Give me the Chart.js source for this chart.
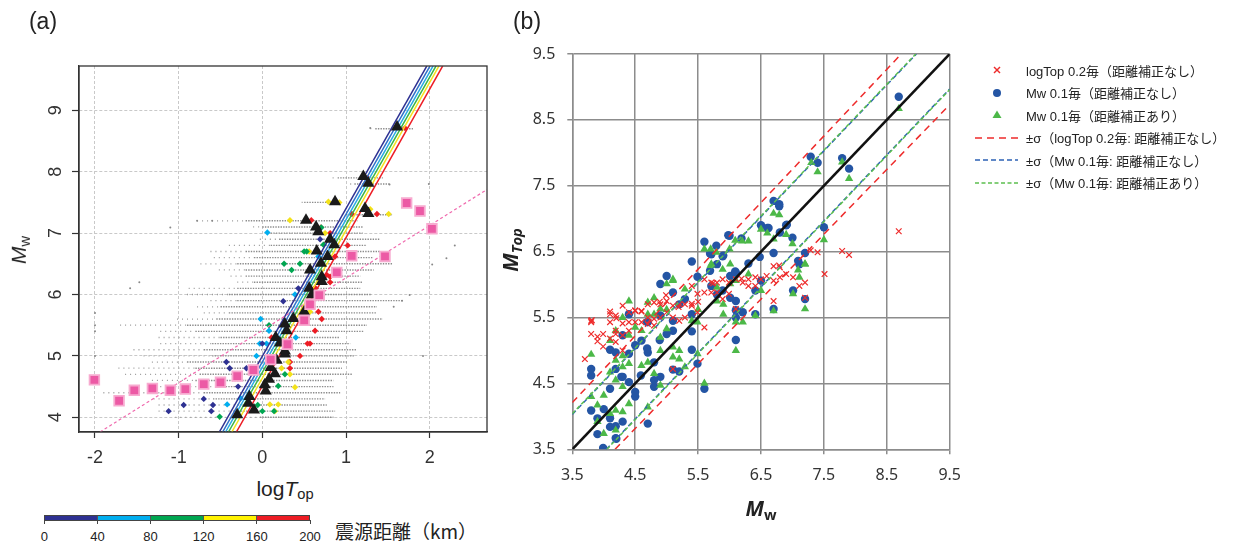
<!DOCTYPE html>
<html>
<head>
<meta charset="utf-8">
<script src="https://cdn.jsdelivr.net/npm/chart.js@4.4.1/dist/chart.umd.min.js"></script>
<style>
body{margin:0;width:1241px;height:545px;background:#fff;position:relative;overflow:hidden;
  font-family:"Liberation Sans","Noto Sans CJK JP",sans-serif;color:#222;}
canvas{position:absolute;}
.t{position:absolute;white-space:nowrap;line-height:1;}
.c{transform:translate(-50%,-50%);}
.r{transform:translate(-50%,-50%) rotate(-90deg);}
.t sub{font-size:70%;vertical-align:-0.25em;}
.leg{position:absolute;left:972px;height:20px;display:flex;align-items:center;font-size:13px;white-space:nowrap;color:#222;}
.leg svg{width:50px;height:14px;flex:none;}
#cbar{position:absolute;left:44px;top:515px;width:266px;height:6px;display:flex;border:1px solid #444;box-sizing:border-box;}
#cbar div{flex:1;border-right:1px solid #555;}
#cbar div:last-child{border-right:none;}
</style>
</head>
<body>

<canvas id="chartA" width="500" height="470" style="left:0;top:0"></canvas>
<canvas id="chartB" width="480" height="500" style="left:500px;top:0"></canvas>

<div class="t c" style="left:43px;top:21px;font-size:23px">(a)</div>
<div class="t c" style="left:527px;top:21px;font-size:23px">(b)</div>

<div class="t r" style="left:20px;top:250px;font-size:21px"><i>M</i><sub>w</sub></div>
<div class="t c" style="left:285px;top:490px;font-size:21px">log<i>T</i><sub>op</sub></div>

<div class="t r" style="left:512px;top:250px;font-size:21px;font-weight:bold;font-family:'Open Sans','Liberation Sans'"><i>M</i><sub><i>Top</i></sub></div>
<div class="t c" style="left:761px;top:510px;font-size:21px;font-weight:bold;font-family:'Open Sans','Liberation Sans'"><i>M</i><sub>w</sub></div>

<div id="cbar"></div>
<div id="cbarLabels"></div>
<div class="t c" style="left:406px;top:530px;font-size:19px;font-family:'Noto Sans CJK JP'">震源距離（km）</div>

<div id="legendB"></div>

<script>
/* =========================================================
   PANEL (a) DATA
========================================================= */

const aXTicks = [-2, -1, 0, 1, 2];
const aYTicks = [4, 5, 6, 7, 8, 9];

// gray data rows: Mw level, first sparse dot, start of dense part, last dot
const rowMw    = [4.0,4.1,4.2,4.3,4.4,4.5,4.6,4.7,4.8,4.9,5.0,5.1,5.2,5.3,5.4,5.5,5.6,5.7,5.8,5.9,6.0,6.1,6.2,6.3,6.4,6.5,6.6,6.7,6.8,6.9,7.0,7.1,7.2,7.3,7.5,7.8,7.9,8.7];
const rowStart = [-1.04,-1.24,-1.24,-1.30,-1.90,-1.22,-1.32,-1.64,-1.72,-1.32,-1.42,-1.54,-1.22,-1.24,-1.22,-1.70,-1.02,-0.70,-0.78,-0.62,-0.90,-0.88,-0.30,-0.38,-0.52,-0.74,-0.58,-0.62,-0.40,-0.03,0.07,-0.11,-0.78,0.95,0.47,1.05,0.84,1.29];
const rowDense = [-0.03,-0.35,-0.30,-0.59,-0.70,-0.50,-0.80,-0.75,-0.80,-0.90,-0.60,-0.70,-0.60,-0.50,-0.80,-0.90,-0.55,-0.40,-0.50,-0.30,-0.40,-0.30,-0.10,-0.20,-0.20,-0.30,-0.10,-0.20,0.10,0.20,0.10,0.00,-0.20,1.00,0.50,1.10,0.90,1.35];
const rowEnd   = [0.85,0.87,0.77,0.75,0.93,0.85,0.85,1.07,0.95,1.01,1.10,1.13,1.05,0.93,1.21,1.25,1.44,1.37,1.37,1.68,1.31,1.17,1.19,1.17,1.33,1.56,1.33,1.41,1.25,1.41,1.20,1.20,1.14,1.56,0.89,1.52,1.44,1.80];

const grayDots = [[-2.0,5.0],[-2.0,5.4],[-2.0,5.5],[-2.0,5.7],[-1.58,6.1],[-1.47,6.2],[-1.10,7.09],[-0.78,7.2],[-0.60,7.2],
  [1.92,5.0],[2.30,6.80],[2.20,6.59],[2.03,6.49],[1.76,5.99],[1.67,5.9],[1.57,5.8],[1.99,7.8],[1.52,7.79],[1.29,8.71]];

// per-row markers coloured by hypocentral distance class
const distNavy = [[0.25,5.89],[0.0,5.2],[-0.43,4.9],[-0.39,4.8],[-0.19,4.8],[-0.29,4.5],[-0.70,4.3],[-0.94,4.2],[-0.59,4.2],[-1.12,4.1],[-0.61,4.1],[0.43,6.1],[0.69,6.9]];
const distCyan = [[-0.02,5.6],[0.08,5.41],[-0.03,5.2],[0.05,5.2],[-0.07,5.0],[0.40,5.3],[0.39,6.0],[-0.26,4.31],[-0.42,4.21],[0.67,6.62],[0.06,7.01]];
const distGreen = [[0.26,6.5],[0.45,6.5],[0.35,6.4],[0.08,5.5],[0.27,4.7],[0.19,4.51],[-0.055,4.2],[0.0,4.1],[0.14,4.1],[-0.51,4.01],[0.50,6.7],[0.53,6.7],[0.705,7.09],[0.73,6.81]];
const distYellow = [[0.57,5.72],[0.31,4.9],[0.23,4.8],[0.33,4.7],[0.39,4.49],[0.09,4.21],[0.19,4.21],[0.15,4.1],[0.79,7.51],[0.92,7.5],[1.29,7.39],[1.51,7.31],[0.33,7.21],[0.75,7.0],[0.56,6.7]];
const distRed = [[1.705,8.71],[1.255,7.9],[1.07,7.31],[1.37,7.31],[0.585,7.21],[0.70,7.09],[0.81,7.0],[1.02,6.8],[0.869,6.62],[0.81,6.29],[0.81,6.2],[0.63,6.11],[0.67,5.72],[0.71,5.6],[0.63,5.41],[0.54,5.2],[0.57,5.2],[0.45,5.0],[0.33,4.9],[0.33,4.8],[0.11,5.3],[0.77,6.32]];

// black triangles
const triPts = [[1.61,8.73],[1.207,7.92],[1.267,7.81],[0.869,7.51],[1.227,7.40],[1.267,7.32],[0.522,7.21],[0.642,7.10],[0.669,7.02],
  [0.809,6.90],[0.86,6.81],[0.65,6.71],[0.78,6.62],[0.70,6.51],[0.57,6.40],[0.71,6.29],[0.71,6.21],[0.56,6.10],[0.59,5.99],
  [0.50,5.72],[0.37,5.61],[0.27,5.52],[0.29,5.41],[0.16,5.30],[0.21,5.21],[0.27,5.08],[0.27,5.03],[0.17,4.93],[0.10,4.81],
  [0.15,4.71],[0.08,4.62],[0.03,4.53],[0.04,4.43],[-0.155,4.34],[-0.167,4.23],[-0.10,4.12],[-0.30,4.04]];

// pink squares
const sqPts = [[-2.007,4.61],[-1.712,4.27],[-1.53,4.44],[-1.314,4.47],[-1.099,4.44],[-0.92,4.46],[-0.70,4.54],[-0.50,4.57],
  [-0.30,4.67],[-0.107,4.77],[0.10,4.94],[0.30,5.19],[0.50,5.58],[0.57,5.84],[0.68,5.99],[0.89,6.36],[1.068,6.63],
  [1.466,6.62],[1.725,7.49],[1.884,7.36],[2.027,7.07]];

// regression lines per distance class (x at bottom and top of the frame)
const fitYBottom = 3.76, fitYTop = 9.72;
const fitXBottom = [-0.514, -0.475, -0.44, -0.405, -0.365, -0.31];
const fitXTop    = [1.965, 2.003, 2.04, 2.075, 2.11, 2.155];
const fitColors  = ['#2e3192', '#2f6fc8', '#29abe2', '#39b54a', '#f4e31e', '#ed1c24'];

const pinkLine = [[-1.94, 3.76], [2.685, 7.71]];

/* =========================================================
   PANEL (b) DATA
========================================================= */

const bTicks = [3.5, 4.5, 5.5, 6.5, 7.5, 8.5, 9.5];

const redCross = [[3.70,4.87],[3.80,5.45],[3.80,5.43],[3.80,5.25],[3.90,5.21],[3.90,5.14],[3.99,5.06],[3.99,5.25],[4.10,5.55],[4.10,5.43],
  [4.10,5.18],[4.19,5.53],[4.19,5.30],[4.19,5.25],[4.19,5.13],[4.30,5.68],[4.30,5.41],[4.30,5.23],[4.30,5.00],[4.40,5.58],
  [4.40,5.43],[4.40,5.30],[4.50,5.60],[4.50,5.43],[4.60,5.60],[4.60,5.43],[4.70,5.70],[4.70,5.50],[4.70,5.40],[4.80,5.73],
  [4.80,5.48],[4.80,5.38],[4.90,5.70],[4.90,5.50],[5.00,5.75],[5.00,5.58],[5.10,5.68],[5.10,5.50],[5.20,5.70],[5.20,5.45],
  [5.29,5.50],[5.29,5.70],[5.40,5.98],[5.40,5.68],[5.49,5.86],[5.49,5.58],[5.60,6.08],[5.60,5.88],[5.60,5.35],[5.71,6.03],
  [5.71,5.88],[5.80,6.03],[5.80,5.88],[5.89,6.08],[5.89,5.78],[5.99,6.03],[5.99,5.86],[6.10,6.08],[6.10,5.63],[6.21,6.03],
  [6.30,6.08],[6.30,5.98],[6.41,6.11],[6.41,5.98],[6.50,6.08],[6.59,6.13],[6.70,6.06],[6.70,5.75],[6.70,6.28],[6.80,6.11],
  [6.80,6.26],[6.90,6.16],[7.01,6.11],[7.11,5.98],[7.20,6.03],[7.20,5.80],[7.51,6.16],[7.29,6.52],[7.40,6.49],[7.79,6.51],
  [7.90,6.45],[8.69,6.81],[6.79,6.29],[5.10,4.72],[4.50,5.61],[4.60,5.59],[4.89,5.74],[4.99,5.84],[5.19,5.66],[5.40,5.71],
  [5.50,5.74],[6.19,6.09],[5.74,6.02],[3.81,5.46],[4.10,5.59],[4.20,5.49]];

const blueDot = [[3.80,4.62],[3.80,4.72],[3.80,4.09],[3.90,3.97],[3.90,3.73],[3.99,3.52],[4.00,4.11],[4.10,5.01],[4.10,4.42],[4.10,3.84],
  [4.10,3.97],[4.19,4.97],[4.19,4.72],[4.19,3.67],[4.19,3.85],[4.30,3.92],[4.30,4.60],[4.30,5.23],[4.40,5.55],[4.40,4.95],
  [4.40,4.52],[4.50,5.08],[4.50,4.30],[4.50,4.37],[4.60,5.15],[4.59,4.62],[4.70,4.97],[4.70,3.89],[4.80,4.45],[4.80,4.82],
  [4.90,6.01],[4.90,4.60],[5.00,6.13],[5.00,5.25],[5.10,5.88],[5.10,5.30],[5.10,4.71],[5.20,4.68],[5.40,5.29],[5.40,5.01],
  [5.49,4.80],[5.60,4.42],[5.71,6.46],[5.80,6.31],[5.89,6.43],[6.01,6.13],[6.10,6.18],[6.10,5.50],[6.10,5.16],[6.21,5.58],
  [6.41,5.55],[6.41,5.91],[6.50,6.06],[6.70,5.63],[7.01,5.91],[7.11,6.31],[7.20,5.78],[7.20,6.48],[6.70,6.48],[4.69,5.43],
  [4.69,5.03],[4.80,4.55],[4.89,5.16],[5.40,6.35],[5.49,6.12],[5.60,6.65],[5.69,6.47],[5.98,6.75],[6.10,5.61],[6.30,6.32],
  [6.48,6.42],[6.62,6.86],[6.91,6.91],[6.19,6.70],[4.28,4.60],[4.20,3.66],[8.69,8.85],[7.29,7.94],[7.40,7.85],[7.79,7.92],
  [7.90,7.76],[6.70,7.27],[6.79,7.19],[6.79,7.22],[6.90,6.90],[7.50,6.87],[6.50,6.90],[6.60,6.86],[6.00,6.74],[5.79,6.59],
  [6.09,6.20],[7.00,6.71],[5.90,6.44],[6.80,6.79],[7.09,6.36],[5.69,6.21],[4.70,5.43],[4.90,5.53],[5.10,5.45],[5.20,5.70],
  [5.71,5.98],[5.80,5.85],[5.89,5.91],[6.01,5.80],[6.10,5.75],[5.40,5.55],[5.29,5.78]];

const greenTri = [[3.80,4.94],[3.80,4.30],[3.90,4.17],[3.90,3.92],[4.00,4.32],[4.00,3.74],[4.10,4.67],[4.10,4.04],[4.10,5.15],[4.19,5.30],
  [4.19,4.85],[4.19,4.55],[4.19,4.09],[4.19,3.79],[4.30,4.92],[4.30,4.75],[4.30,4.45],[4.30,4.07],[4.30,5.50],[4.40,5.75],
  [4.40,5.23],[4.40,4.80],[4.40,4.19],[4.50,5.35],[4.60,4.77],[4.70,5.73],[4.70,5.55],[4.70,4.82],[4.70,4.14],[4.80,5.80],
  [4.80,5.55],[4.80,4.65],[4.90,5.63],[4.90,5.20],[4.90,5.00],[4.90,4.47],[5.00,6.01],[5.00,5.33],[5.10,6.06],[5.10,5.05],
  [5.10,4.90],[5.20,5.00],[5.20,4.87],[5.29,5.93],[5.29,4.75],[5.40,5.45],[5.49,4.95],[5.49,5.43],[5.60,4.50],[5.71,6.31],
  [5.80,5.96],[5.80,5.75],[5.89,6.23],[5.90,5.55],[6.01,6.01],[6.10,5.00],[6.10,5.43],[6.10,6.06],[6.21,5.43],[6.30,6.16],
  [6.41,5.53],[6.50,5.91],[6.70,5.60],[7.01,5.86],[7.11,6.11],[7.20,5.63],[7.20,6.31],[8.69,8.67],[7.30,7.85],[7.40,7.71],
  [7.79,7.86],[7.90,7.61],[6.70,7.08],[6.79,7.06],[7.50,6.68],[6.50,6.84],[6.60,6.78],[6.70,6.69],[6.90,6.76],[6.09,6.67],
  [6.20,6.66],[6.30,6.66],[5.60,6.54],[5.70,6.54],[5.79,6.49],[6.00,6.54],[7.00,6.62],[7.20,6.31],[7.09,6.22],[5.70,6.29],
  [6.01,6.31],[5.10,6.08],[4.60,5.30],[5.00,5.62],[5.50,5.62],[5.90,5.70]];

const oneToOne = [[3.5, 3.5], [9.5, 9.5]];
const sigmaRedUp = [[3.5, 4.21], [8.73, 9.5]];
const sigmaRedLo = [[4.18, 3.5], [9.5, 8.73]];
const sigmaBlueUp = [[3.5, 4.03], [8.97, 9.5]];
const sigmaBlueLo = [[4.04, 3.5], [9.5, 8.97]];
const sigmaGreenUp = [[3.5, 4.04], [8.96, 9.5]];
const sigmaGreenLo = [[4.05, 3.5], [9.5, 8.96]];

const legendText = ['logTop 0.2毎（距離補正なし）', 'Mw 0.1毎（距離補正なし）', 'Mw 0.1毎（距離補正あり）',
  '±σ（logTop 0.2毎: 距離補正なし）', '±σ（Mw 0.1毎: 距離補正なし）', '±σ（Mw 0.1毎: 距離補正あり）'];

const distClassColors = ['#2e3192', '#00aeef', '#00a651', '#fff200', '#ed1c24'];
const distTicks = [0, 40, 80, 120, 160, 200];

/* =========================================================
   HELPERS
========================================================= */

const pts = arr => arr.map(p => ({x: p[0], y: p[1]}));

const fixedTicks = vals => scale => {
  scale.ticks = vals.map(v => ({value: v}));
};

const frame = {
  id: 'frame',
  afterDraw(chart, args, opts){
    const {ctx, chartArea: ca} = chart;
    ctx.save();
    ctx.strokeStyle = opts.color;
    ctx.lineWidth = opts.width;
    ctx.strokeRect(ca.left, ca.top, ca.width, ca.height);
    ctx.restore();
  }
};

/* =========================================================
   CHART (a)
========================================================= */

const sparseRows = [], denseRows = [];
rowMw.forEach((m, i) => {
  sparseRows.push({x: rowStart[i], y: m}, {x: rowDense[i], y: m}, {x: NaN, y: NaN});
  denseRows.push({x: rowDense[i], y: m}, {x: rowEnd[i], y: m}, {x: NaN, y: NaN});
});

const diamond = (data, color, order) => ({
  data: pts(data), pointStyle: 'rectRot', pointRadius: 3.2,
  backgroundColor: color, borderColor: color, borderWidth: 0, order
});

const datasetsA = [
  {data: sparseRows, showLine: true, pointRadius: 0, borderColor: '#9a9a9a', borderWidth: 1.3, borderDash: [1, 4], order: 20},
  {data: denseRows, showLine: true, pointRadius: 0, borderColor: '#8c8c8c', borderWidth: 1.4, borderDash: [1.4, 1.2], order: 19},
  {data: pts(grayDots), pointRadius: 1, backgroundColor: '#888', borderWidth: 0, order: 18},
  diamond(distNavy, distClassColors[0], 12),
  diamond(distCyan, distClassColors[1], 12),
  diamond(distGreen, distClassColors[2], 12),
  diamond(distYellow, '#f3e21a', 12),
  diamond(distRed, distClassColors[4], 12)
];

fitColors.forEach((col, i) => {
  datasetsA.push({
    data: [{x: fitXBottom[i], y: fitYBottom}, {x: fitXTop[i], y: fitYTop}],
    showLine: true, pointRadius: 0, borderColor: col, borderWidth: 1.5, order: 10
  });
});

datasetsA.push(
  {data: pts(triPts), pointStyle: 'triangle', pointRadius: 7, backgroundColor: '#1a1a1a', borderColor: '#1a1a1a', borderWidth: 0, order: 5},
  {data: pts(pinkLine), showLine: true, pointRadius: 0, borderColor: '#f06aae', borderWidth: 1.2, borderDash: [3, 2.5], order: 4},
  {data: pts(sqPts), pointStyle: 'rect', pointRadius: 6.8, backgroundColor: '#ec5aa5', borderColor: '#f7abd0', borderWidth: 1.8, order: 3}
);

new Chart(document.getElementById('chartA'), {
  type: 'scatter',
  data: {datasets: datasetsA},
  plugins: [frame],
  options: {
    responsive: false,
    animation: false,
    layout: {padding: {top: 66, right: 13, left: 0, bottom: 0}},
    plugins: {
      legend: {display: false},
      tooltip: {enabled: false},
      frame: {color: '#333', width: 1.3}
    },
    scales: {
      x: {
        type: 'linear', min: -2.191, max: 2.685,
        afterBuildTicks: fixedTicks(aXTicks),
        afterFit: s => { s.height = 38; },
        grid: {color: '#c9c9c9', lineWidth: 1, tickLength: 6, tickColor: '#333', tickWidth: 1.2},
        border: {display: true, color: '#333', width: 1.3, dash: [3, 2]},
        ticks: {color: '#333', padding: 9, font: {family: 'Liberation Sans', size: 18}}
      },
      y: {
        type: 'linear', min: 3.7606, max: 9.7215,
        afterBuildTicks: fixedTicks(aYTicks),
        afterFit: s => { s.width = 79; },
        grid: {color: '#c9c9c9', lineWidth: 1, tickLength: 7, tickColor: '#333', tickWidth: 1.2},
        border: {display: true, color: '#333', width: 1.3, dash: [3, 2]},
        ticks: {color: '#333', padding: 11, crossAlign: 'center', minRotation: 90, maxRotation: 90,
          font: {family: 'Liberation Sans', size: 18}}
      }
    }
  }
});

/* =========================================================
   CHART (b)
========================================================= */

const dashed = (data, color, dash, order) => ({
  data: pts(data), showLine: true, pointRadius: 0, borderColor: color, borderWidth: 1.5, borderDash: dash, order
});

new Chart(document.getElementById('chartB'), {
  type: 'scatter',
  data: {
    datasets: [
      {data: pts(blueDot), pointStyle: 'circle', pointRadius: 4.2, backgroundColor: '#2455a4', borderWidth: 0, order: 9},
      {data: pts(greenTri), pointStyle: 'triangle', pointRadius: 4.8, backgroundColor: '#4cb848', borderWidth: 0, order: 8},
      {data: pts(redCross), pointStyle: 'crossRot', pointRadius: 4, borderColor: '#ee2b2b', borderWidth: 1.2, order: 7},
      dashed(sigmaRedUp, '#ee2b2b', [7, 5], 4),
      dashed(sigmaRedLo, '#ee2b2b', [7, 5], 4),
      dashed(sigmaBlueUp, '#2d62b5', [5, 3], 3),
      dashed(sigmaBlueLo, '#2d62b5', [5, 3], 3),
      dashed(sigmaGreenUp, '#5cbf4f', [4, 2.5], 2),
      dashed(sigmaGreenLo, '#5cbf4f', [4, 2.5], 2),
      {data: pts(oneToOne), showLine: true, pointRadius: 0, borderColor: '#111', borderWidth: 2.6, order: 1}
    ]
  },
  options: {
    responsive: false,
    animation: false,
    layout: {padding: {top: 54, right: 30.3, left: 0, bottom: 0}},
    plugins: {legend: {display: false}, tooltip: {enabled: false}},
    scales: {
      x: {
        type: 'linear', min: 3.5, max: 9.5,
        afterBuildTicks: fixedTicks(bTicks),
        afterFit: s => { s.height = 50.7; },
        grid: {color: '#8c8c8c', lineWidth: 1.5, tickLength: 5},
        border: {display: true, color: '#8c8c8c', width: 1.5},
        ticks: {color: '#333', padding: 12, font: {family: 'Noto Sans', size: 16},
          callback: v => v.toFixed(1)}
      },
      y: {
        type: 'linear', min: 3.5, max: 9.5,
        afterBuildTicks: fixedTicks(bTicks),
        afterFit: s => { s.width = 72.3; },
        grid: {color: '#8c8c8c', lineWidth: 1.5, tickLength: 5},
        border: {display: true, color: '#8c8c8c', width: 1.5},
        ticks: {color: '#333', padding: 12, font: {family: 'Noto Sans', size: 16},
          callback: v => v.toFixed(1)}
      }
    }
  }
});

/* =========================================================
   LEGEND (b) AND COLOUR BAR (a)
========================================================= */

const legendSvg = [
  '<line x1="22" y1="4" x2="28" y2="10" stroke="#ee2b2b" stroke-width="1.4"/><line x1="28" y1="4" x2="22" y2="10" stroke="#ee2b2b" stroke-width="1.4"/>',
  '<circle cx="25" cy="7" r="4" fill="#2455a4"/>',
  '<polygon points="25,2.5 29.5,10 20.5,10" fill="#4cb848"/>',
  '<line x1="3" y1="7" x2="46" y2="7" stroke="#ee2b2b" stroke-width="1.5" stroke-dasharray="7,5"/>',
  '<line x1="3" y1="7" x2="46" y2="7" stroke="#2d62b5" stroke-width="1.5" stroke-dasharray="5,3"/>',
  '<line x1="3" y1="7" x2="46" y2="7" stroke="#5cbf4f" stroke-width="1.5" stroke-dasharray="4,2.5"/>'
];

const legendB = document.getElementById('legendB');
legendText.forEach((txt, i) => {
  const row = document.createElement('div');
  row.className = 'leg';
  row.style.top = (60 + i * 22.5) + 'px';
  row.innerHTML = '<svg viewBox="0 0 50 14">' + legendSvg[i] + '</svg><span style="margin-left:4px">' + txt + '</span>';
  legendB.appendChild(row);
});

const cbar = document.getElementById('cbar');
distClassColors.forEach(col => {
  const seg = document.createElement('div');
  seg.style.background = col;
  cbar.appendChild(seg);
});

const cbarLabels = document.getElementById('cbarLabels');
distTicks.forEach((v, i) => {
  const x = 44.3 + i * (265.7 / 5);
  const tick = document.createElement('div');
  tick.style.cssText = 'position:absolute;left:' + (x - 0.5) + 'px;top:520px;width:1px;height:4px;background:#444';
  cbarLabels.appendChild(tick);
  const lab = document.createElement('div');
  lab.className = 't c';
  lab.style.cssText = 'left:' + x + 'px;top:536px;font-size:13px';
  lab.textContent = v;
  cbarLabels.appendChild(lab);
});
</script>
</body>
</html>
